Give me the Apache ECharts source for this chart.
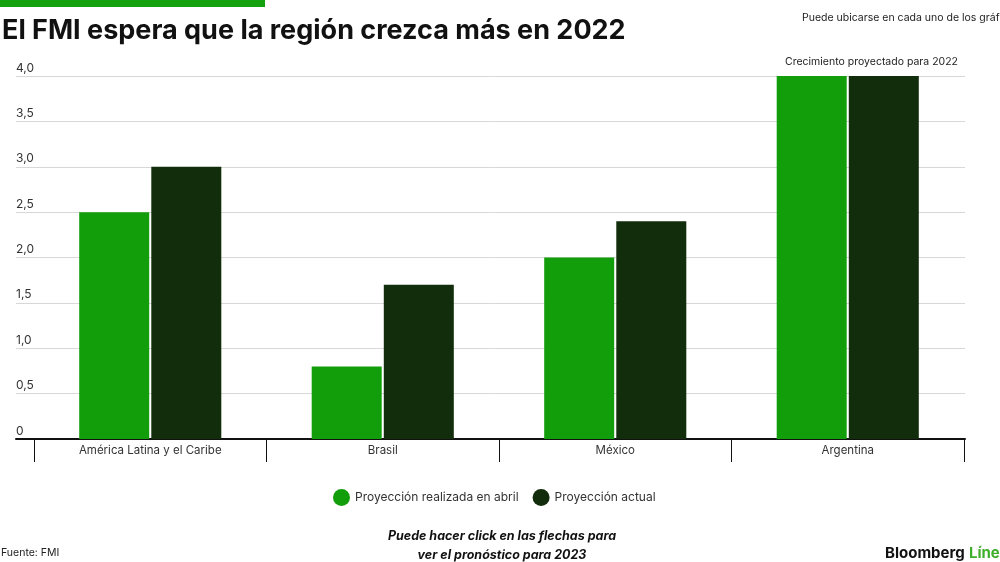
<!DOCTYPE html>
<html>
<head>
<meta charset="utf-8">
<script src="https://cdn.jsdelivr.net/npm/echarts@6/dist/echarts.min.js"></script>
<style>
  html, body { margin: 0; padding: 0; background: #fff; }
  #chart { width: 1000px; height: 562px; }
</style>
</head>
<body>
<div id="chart"></div>
<script>
const categories = ['América Latina y el Caribe', 'Brasil', 'México', 'Argentina']
const abril = [2.5, 0.8, 2.0, 4.0]
const actual = [3.0, 1.7, 2.4, 4.0]
const seriesNames = ['Proyección realizada en abril', 'Proyección actual']

const verde = '#129e0b'
const oscuro = '#112d0b'
const fuente = 'Inter, "Noto Sans", sans-serif'

var myChart = echarts.init(document.getElementById('chart'))

var option = {
  animation: false,
  textStyle: { fontFamily: fuente },
  title: [{
    text: 'El FMI espera que la región crezca más en 2022',
    left: -3,
    top: 12,
    textStyle: { fontSize: 27, fontWeight: 'bold', color: '#111', fontFamily: fuente }
  }, {
    text: 'Puede ubicarse en cada uno de los gráficos',
    left: 797,
    top: 7,
    textStyle: { fontSize: 10.5, fontWeight: 'normal', color: '#222', fontFamily: fuente }
  }, {
    text: 'Crecimiento proyectado para 2022',
    right: 37,
    top: 51,
    textStyle: { fontSize: 10.5, fontWeight: 'normal', color: '#222', fontFamily: fuente }
  }, {
    text: 'Puede hacer click en las flechas para\nver el pronóstico para 2023',
    left: 497,
    textAlign: 'center',
    top: 522,
    textStyle: { fontSize: 12.5, fontWeight: 'bold', fontStyle: 'italic', color: '#111', lineHeight: 19, fontFamily: fuente }
  }, {
    text: 'Fuente: FMI',
    left: -4,
    top: 542,
    textStyle: { fontSize: 10.5, fontWeight: 'normal', color: '#222', fontFamily: fuente }
  }, {
    text: '{a|Bloomberg} {b|Línea}',
    left: 880,
    top: 539,
    textStyle: {
      rich: {
        a: { fontSize: 15, fontWeight: 'bold', color: '#111', fontFamily: fuente },
        b: { fontSize: 15, fontWeight: 'bold', color: '#3fae2a', fontFamily: fuente }
      }
    }
  }],
  graphic: [{
    type: 'rect',
    shape: { x: 0, y: 0, width: 265, height: 7 },
    style: { fill: '#13a10e' }
  }],
  legend: {
    top: 484,
    left: 328,
    itemWidth: 17,
    itemHeight: 17,
    itemGap: 14,
    icon: 'circle',
    data: seriesNames,
    textStyle: { fontSize: 12, color: '#333', fontFamily: fuente }
  },
  grid: [
    { left: 16, right: 35, top: 76, bottom: 123 },
    { left: 34, right: 36, top: 76, bottom: 123 }
  ],
  xAxis: [{
    gridIndex: 0,
    type: 'value',
    min: 0,
    max: 1,
    axisLine: { show: true, lineStyle: { color: '#111', width: 2 } },
    axisTick: { show: false },
    axisLabel: { show: false },
    splitLine: { show: false }
  }, {
    gridIndex: 1,
    type: 'category',
    data: categories,
    axisLine: { show: false },
    axisTick: { show: true, length: 23, lineStyle: { color: '#111', width: 1 } },
    axisLabel: { color: '#333', fontSize: 11.5, margin: 6, fontFamily: fuente }
  }],
  yAxis: [{
    gridIndex: 0,
    type: 'value',
    min: 0,
    max: 4,
    interval: 0.5,
    axisLine: { show: false },
    axisTick: { show: false },
    axisLabel: {
      inside: true,
      margin: 0,
      align: 'left',
      verticalAlign: 'bottom',
      padding: [0, 0, 2, 0],
      color: '#333',
      fontSize: 12,
      fontFamily: fuente,
      formatter: function(v) {
        return v === 0 ? '0' : v.toFixed(1).replace('.', ',')
      }
    },
    splitLine: { lineStyle: { color: '#d8d8d8', width: 1 } }
  }, {
    gridIndex: 1,
    type: 'value',
    min: 0,
    max: 4,
    show: false
  }],
  series: [{
    name: seriesNames[0],
    type: 'bar',
    xAxisIndex: 1,
    yAxisIndex: 1,
    data: abril,
    barWidth: 70,
    barGap: '3%',
    itemStyle: { color: verde },
    z: 3
  }, {
    name: seriesNames[1],
    type: 'bar',
    xAxisIndex: 1,
    yAxisIndex: 1,
    data: actual,
    barWidth: 70,
    itemStyle: { color: oscuro },
    z: 3
  }]
}

myChart.setOption(option)
</script>
</body>
</html>
